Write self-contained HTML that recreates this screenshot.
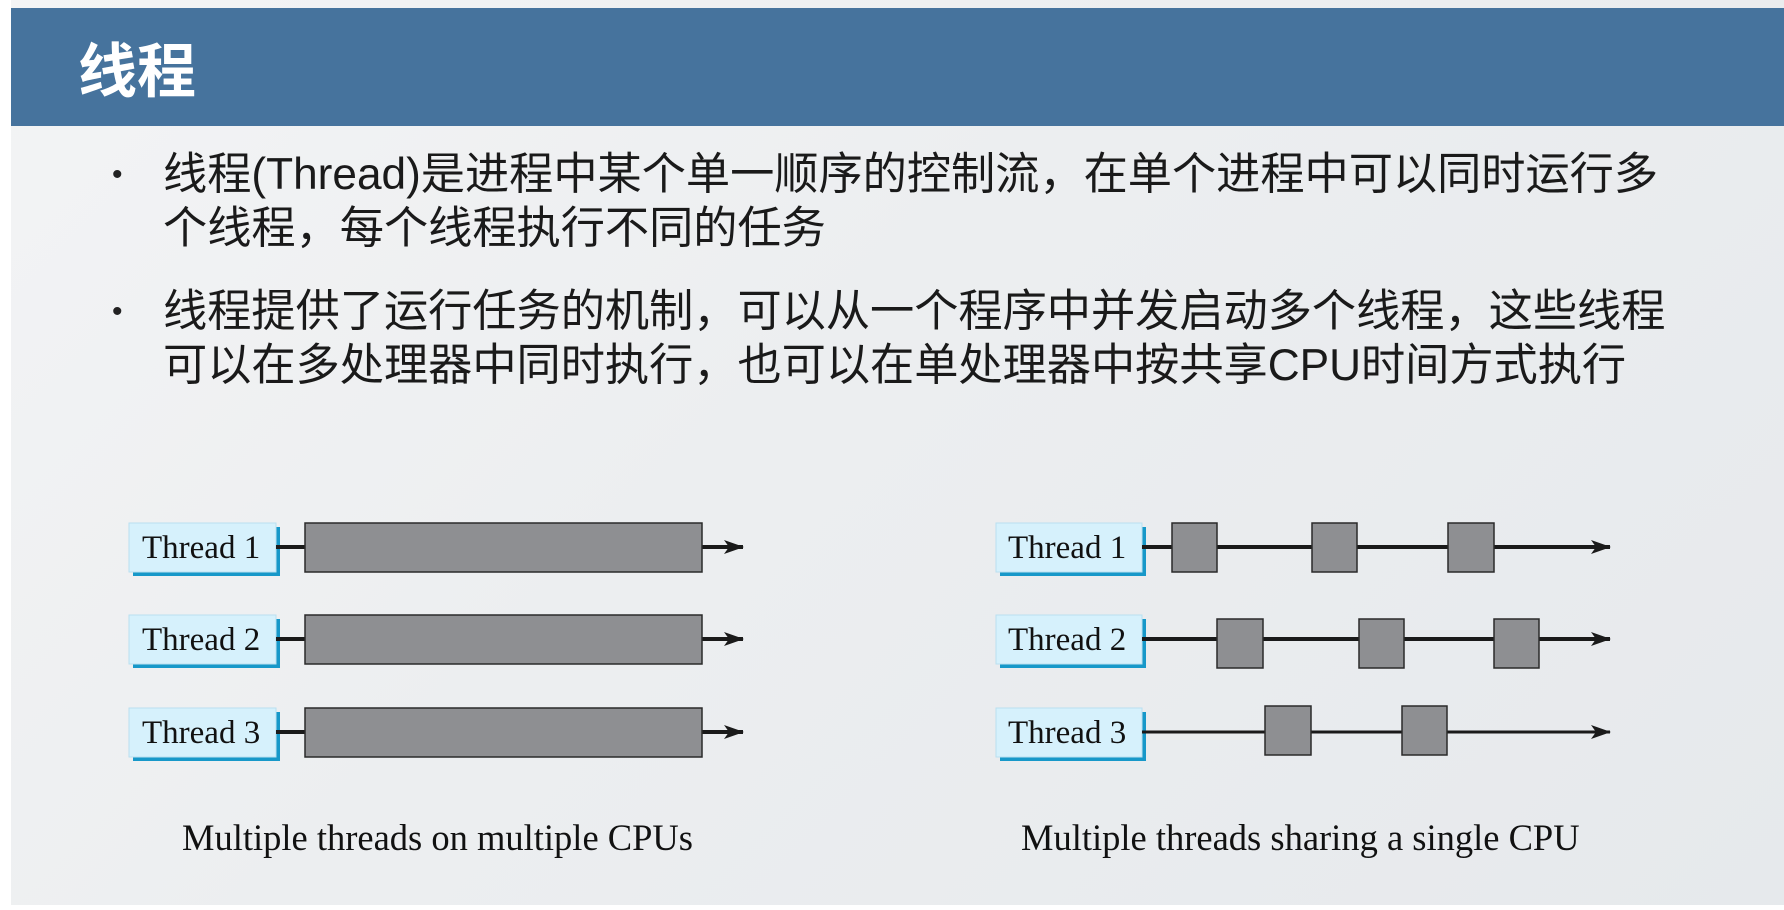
<!DOCTYPE html>
<html><head><meta charset="utf-8"><style>
body{margin:0;width:1784px;height:910px;overflow:hidden;background:#fff;position:relative;font-family:"Liberation Sans","Noto Sans CJK SC",sans-serif}
.bg{position:absolute;left:11px;top:0;width:1773px;height:905px;background:linear-gradient(135deg,#f3f4f5 0%,#eceef0 45%,#e6e9ec 100%)}
.hdr{position:absolute;left:11px;top:8px;width:1773px;height:118px;background:#46739d}
.title{position:absolute;left:78px;top:24px;font-size:59px;font-weight:bold;color:#fff;font-family:"Noto Sans CJK SC",sans-serif}
.p{position:absolute;left:163px;font-size:44.2px;color:#1a1a1a;line-height:54px;white-space:nowrap}
.dot{position:absolute;left:112px;font-size:30px;color:#222}
.cap{position:absolute;font-family:"Liberation Serif",serif;font-size:36.5px;color:#111;white-space:nowrap}
</style></head><body>
<div class="bg"></div>
<div class="hdr"></div>
<div class="title">线程</div>
<div class="dot" style="top:158px">•</div>
<div class="p" style="top:148px">线程(Thread)是进程中某个单一顺序的控制流，在单个进程中可以同时运行多</div>
<div class="p" style="top:202px">个线程，每个线程执行不同的任务</div>
<div class="dot" style="top:295px">•</div>
<div class="p" style="top:285px">线程提供了运行任务的机制，可以从一个程序中并发启动多个线程，这些线程</div>
<div class="p" style="top:339px">可以在多处理器中同时执行，也可以在单处理器中按共享CPU时间方式执行</div>
<svg style="position:absolute;left:0;top:0" width="1784" height="910">
<defs><marker id="a" markerWidth="20" markerHeight="14" refX="19" refY="7" orient="auto" markerUnits="userSpaceOnUse"><path d="M0,0 L20,7 L0,14 L5,7z" fill="#1a1a1a"/></marker></defs>
<g fill="#1798c9"><rect x="133" y="527" width="147" height="49"/><rect x="133" y="619" width="147" height="49"/><rect x="133" y="712" width="147" height="49"/>
<rect x="1000" y="527" width="146" height="49"/><rect x="1000" y="619" width="146" height="49"/><rect x="1000" y="712" width="146" height="49"/></g>
<g fill="#d6f1fc" stroke="#b9dff0" stroke-width="1"><rect x="129" y="523" width="147" height="49"/><rect x="129" y="615" width="147" height="49"/><rect x="129" y="708" width="147" height="49"/>
<rect x="996" y="523" width="146" height="49"/><rect x="996" y="615" width="146" height="49"/><rect x="996" y="708" width="146" height="49"/></g>
<g font-family="Liberation Serif,serif" font-size="33" fill="#111">
<text x="142" y="558">Thread 1</text><text x="142" y="650">Thread 2</text><text x="142" y="743">Thread 3</text>
<text x="1008" y="558">Thread 1</text><text x="1008" y="650">Thread 2</text><text x="1008" y="743">Thread 3</text></g>
<g stroke="#1a1a1a" stroke-width="4" marker-end="url(#a)">
<line x1="276" y1="547" x2="743" y2="547"/><line x1="276" y1="639" x2="743" y2="639"/><line x1="276" y1="732" x2="743" y2="732"/>
<line x1="1142" y1="547" x2="1610" y2="547"/><line x1="1142" y1="639" x2="1610" y2="639"/><line x1="1142" y1="732" x2="1610" y2="732" stroke-width="3"/></g>
<g fill="#8e8f92" stroke="#2a2a2a" stroke-width="1.5">
<rect x="305" y="523" width="397" height="49"/><rect x="305" y="615" width="397" height="49"/><rect x="305" y="708" width="397" height="49"/>
<rect x="1172" y="523" width="45" height="49"/><rect x="1312" y="523" width="45" height="49"/><rect x="1448" y="523" width="46" height="49"/>
<rect x="1217" y="619" width="46" height="49"/><rect x="1359" y="619" width="45" height="49"/><rect x="1494" y="619" width="45" height="49"/>
<rect x="1265" y="706" width="46" height="49"/><rect x="1402" y="706" width="45" height="49"/></g>
</svg>
<div class="cap" style="left:182px;top:816px">Multiple threads on multiple CPUs</div>
<div class="cap" style="left:1021px;top:816px">Multiple threads sharing a single CPU</div>
</body></html>
